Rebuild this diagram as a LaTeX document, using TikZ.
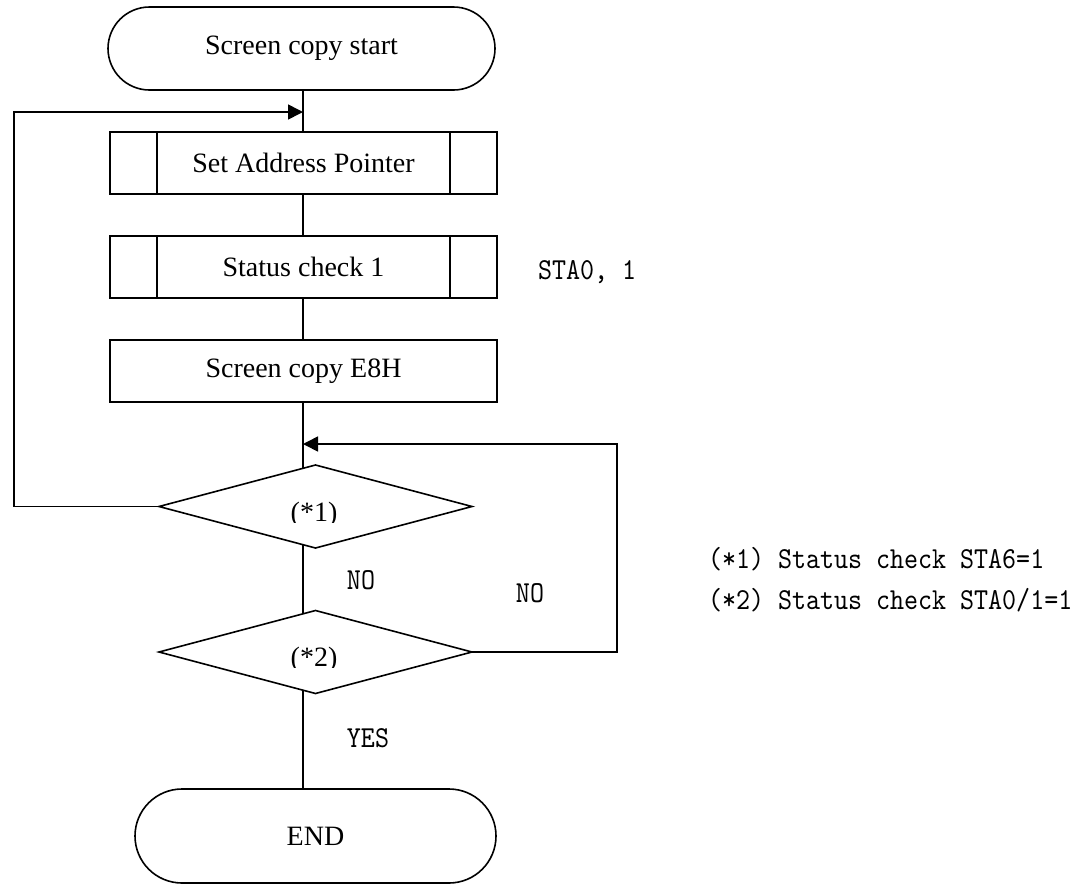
\documentclass[tikz,border=0pt]{standalone}
\usepackage{fontspec}
\setmainfont{Liberation Serif}
\newfontfamily\notefont[FakeStretch=0.875]{lmmono10-regular.otf}
\usetikzlibrary{shapes.geometric,arrows.meta,calc}

\begin{document}
\begin{tikzpicture}[x=1pt,y=-1pt, line width=1.6pt,
  every node/.style={inner sep=0pt, outer sep=0pt},
  term/.style={draw, rectangle, rounded corners=#1, font=\fontsize{28}{32}\selectfont},
  proc/.style={draw, rectangle, minimum width=387pt, minimum height=62pt, font=\fontsize{28}{32}\selectfont},
  dec/.style={draw, diamond, minimum width=313pt, minimum height=83pt},
  lbl/.style={font=\notefont\fontsize{30.5}{34}\selectfont},
  dtext/.style={font=\fontsize{28}{32}\selectfont},
  arr/.style={-{Triangle[length=15pt,width=15pt]}}
]
\useasboundingbox (0,0) rectangle (1090,884);

% spine and loop guide coordinates
\coordinate (sp1) at (303,0);
\coordinate (sp2) at (303,884);
\coordinate (j1) at (303,112);
\coordinate (j2) at (303,444);
\coordinate (lx) at (14,0);
\coordinate (rx) at (617,0);

% nodes
\node[term=41.5pt, minimum width=387pt, minimum height=83pt] (start) at (301.5,48.5) {Screen copy start};
\node[proc] (sap) at (303.5,163) {Set Address Pointer};
\node[proc] (sc1) at (303.5,267) {Status check 1};
\node[proc] (e8h) at (303.5,371) {Screen copy E8H};
\foreach \n in {sap,sc1}{
  \draw ([xshift=47pt]\n.north west) -- ([xshift=47pt]\n.south west)
        ([xshift=-47pt]\n.north east) -- ([xshift=-47pt]\n.south east);
}
\node[dec] (d1) at (315.5,506.5) {};
\node[dec] (d2) at (315.5,652) {};
\node[term=47pt, minimum width=361pt, minimum height=94pt] (end) at (315.5,836) {END};

% diamond texts (clipped at baseline like the reference)
\begin{scope}
  \clip (160,440) rectangle (470,522);
  \node[dtext] (t1) at (314,515) {(*1)};
\end{scope}
\begin{scope}
  \clip (160,600) rectangle (470,667);
  \node[dtext] (t2) at (314,660) {(*2)};
\end{scope}

% spine connectors
\draw (start.south -| sp1) -- (sap.north -| sp1);
\draw (sap.south -| sp1) -- (sc1.north -| sp1);
\draw (sc1.south -| sp1) -- (e8h.north -| sp1);
\draw (e8h.south -| sp1) -- (intersection of sp1--sp2 and d1.west--d1.north);
\draw (intersection of sp1--sp2 and d1.west--d1.south) -- (intersection of sp1--sp2 and d2.west--d2.north);
\draw (intersection of sp1--sp2 and d2.west--d2.south) -- (end.north -| sp1);

% loops
\draw[arr] (d1.west) -- (d1.west -| lx) -- (j1 -| lx) -- (j1);
\draw[arr] (d2.east) -- (d2.east -| rx) -- (j2 -| rx) -- (j2);

% labels
\node[lbl, anchor=base] (no1) at (361,589) {NO};
\node[lbl, anchor=base] (no2) at (530,602) {NO};
\node[lbl, anchor=base] (yes) at (368,747) {YES};
\node[lbl, anchor=base west] (sta) at (538,279) {STA0, 1};
\node[lbl, anchor=base west] (n1) at (708,568) {(*1) Status check STA6=1};
\node[lbl, anchor=base west] (n2) at (708,609) {(*2) Status check STA0/1=1};
\end{tikzpicture}
\end{document}
